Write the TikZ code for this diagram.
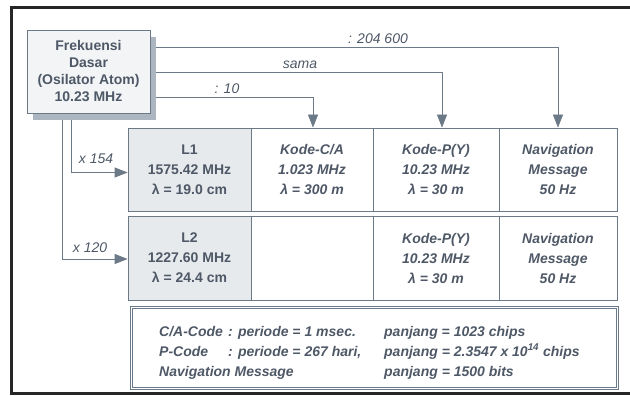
\documentclass[tikz,border=0pt]{standalone}
\usepackage{fontspec}
\setmainfont{Liberation Sans}
\usepackage{tikz}
\usetikzlibrary{arrows.meta,shadows}
\usepackage{xcolor}
\definecolor{inkc}{RGB}{78,88,102}
\definecolor{linec}{RGB}{108,122,136}
\definecolor{bandc}{RGB}{231,234,237}
\definecolor{oscc}{RGB}{242,244,246}
\definecolor{shadc}{RGB}{172,182,192}
\tikzset{
  src/.style={rectangle,draw=linec,line width=0.9pt,fill=oscc,minimum width=123pt,minimum height=83pt,inner sep=0pt,align=center,text=inkc,font=\fontsize{14}{17}\selectfont\bfseries,
    drop shadow={shadow xshift=6pt,shadow yshift=-7pt,fill=shadc,draw=none,opacity=1}},
  cell/.style={rectangle,draw=linec,line width=0.8pt,minimum height=83pt,inner sep=0pt,align=center,text=inkc,font=\fontsize{14}{20}\selectfont\bfseries\itshape},
  band/.style={cell,fill=bandc,font=\fontsize{14}{20}\selectfont\bfseries},
  notebox/.style={rectangle,draw=linec,line width=0.7pt,minimum width=488pt,minimum height=83pt,inner sep=0pt},
  boxline/.style={draw=linec,line width=0.7pt},
  notetxt/.style={anchor=west,inner sep=0pt,text=inkc,font=\fontsize{14}{20}\selectfont\bfseries\itshape},
  feed/.style={-{Triangle[length=13pt,width=10pt]},draw=linec,line width=0.8pt},
  lbl/.style={anchor=base,inner sep=0pt,text=inkc,font=\fontsize{14}{16}\selectfont\itshape},
  frame/.style={line width=3pt,black!85},
}

\begin{document}
\begin{tikzpicture}[x=1pt,y=-1pt]
  \useasboundingbox (0,0) rectangle (630,396);
  \draw[frame] (632,7.5)--(11.5,7.5)--(11.5,393.5)--(632,393.5);
  % oscillator
  \node[src] (osc) at (88.5,71.5) {Frekuensi\\Dasar\\(Osilator Atom)\\10.23 MHz};
  % carrier row L1
  \node[band,minimum width=123pt] (l1) at (189.5,169.5) {L1\\1575.42 MHz\\λ = 19.0 cm};
  \node[cell,minimum width=122pt] (ca1) at (312,169.5) {Kode-C/A\\1.023 MHz\\λ = 300 m};
  \node[cell,minimum width=126pt] (p1) at (436,169.5) {Kode-P(Y)\\10.23 MHz\\λ = 30 m};
  \node[cell,minimum width=118pt] (nav1) at (558,169.5) {Navigation\\Message\\50 Hz};
  % carrier row L2
  \node[band,minimum width=123pt,minimum height=84pt] (l2) at (189.5,258) {L2\\1227.60 MHz\\λ = 24.4 cm};
  \node[cell,minimum width=122pt,minimum height=84pt] (e2) at (312,258) {};
  \node[cell,minimum width=126pt,minimum height=84pt] (p2) at (436,258) {Kode-P(Y)\\10.23 MHz\\λ = 30 m};
  \node[cell,minimum width=118pt,minimum height=84pt] (nav2) at (558,258) {Navigation\\Message\\50 Hz};
  % divisions
  \coordinate (r1) at (156,47); \coordinate (r2) at (156,72); \coordinate (r3) at (156,97);
  \draw[feed] (r1) -| (nav1.north);
  \draw[feed] (r2) -| ([xshift=6pt]p1.north);
  \draw[feed] (r3) -| ([xshift=1pt]ca1.north);
  \node[lbl] (k204) at (378,44) {: 204 600};
  \node[lbl] (ksama) at (300,69) {sama};
  \node[lbl] (k10) at (227,94) {: 10};
  % multiplications
  \coordinate (s1) at (71,120); \coordinate (s2) at (62,120);
  \draw[feed] (s1) |- ([yshift=-3pt]l1.west);
  \draw[feed] (s2) |- ([yshift=-1pt]l2.west);
  \node[lbl] (k154) at (96,163) {x 154};
  \node[lbl] (k120) at (90,252) {x 120};
  % code lengths
  \node[notebox] (notes) at (374,347.5) {};
  \draw[boxline] ([xshift=2.5pt,yshift=-2.5pt]notes.north west) rectangle ([xshift=-2.5pt,yshift=2.5pt]notes.south east);
  \node[notetxt] (codes) at (159,352) {%
    \begin{tabular}{@{}p{69pt}@{}p{156pt}@{}l@{}}
      C/A-Code & : periode = 1 msec. & panjang = 1023 chips\\
      P-Code & : periode = 267 hari, & panjang = 2.3547 x 10\textsuperscript{14} chips\\
      \multicolumn{2}{@{}l}{Navigation Message} & panjang = 1500 bits
    \end{tabular}};
\end{tikzpicture}
\end{document}
